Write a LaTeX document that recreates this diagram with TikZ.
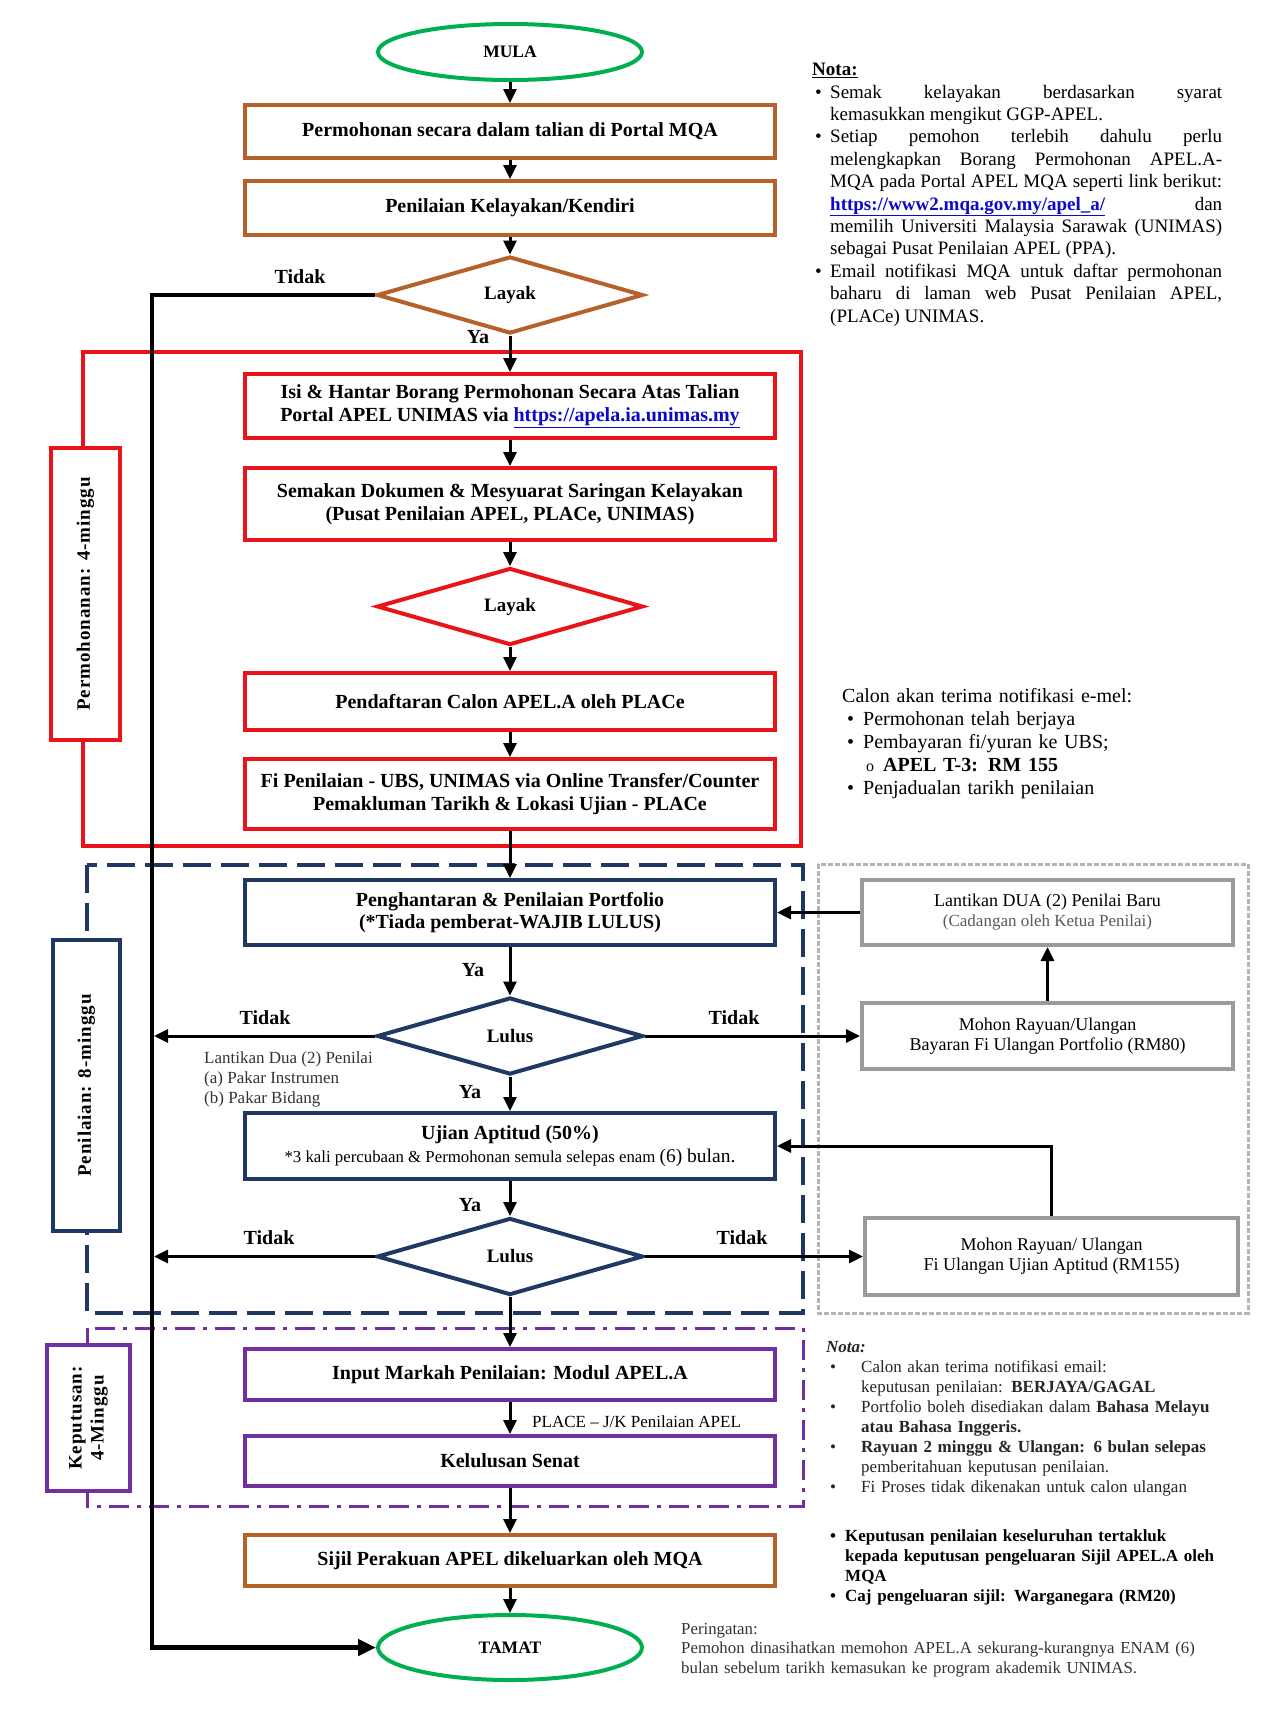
\documentclass[tikz,border=0pt]{standalone}
\usepackage{fontspec}
\setmainfont{Liberation Serif}
\usetikzlibrary{shapes.geometric,arrows.meta}

\definecolor{mqagreen}{RGB}{0,176,80}
\definecolor{mqabrown}{RGB}{182,96,42}
\definecolor{unired}{RGB}{232,20,25}
\definecolor{evalnavy}{RGB}{31,56,100}
\definecolor{decpurple}{RGB}{112,48,160}
\definecolor{appealgray}{RGB}{155,155,155}
\definecolor{linkblue}{RGB}{10,10,200}

\newcommand{\bitem}[3][18pt]{\par\noindent\hangindent=#1\hangafter=1\makebox[#1][l]{\hspace{#2}\textbullet}#3\par}
\newcommand{\weblink}[1]{\textcolor{linkblue}{\underline{\textbf{#1}}}}

\begin{document}
\begin{tikzpicture}[x=1pt,y=-1pt,
  proc/.style={draw, line width=4pt, fill=white, minimum width=530pt, align=center, inner sep=2pt, font=\bfseries\fontsize{20}{22.5}\selectfont},
  brownbox/.style={proc, draw=mqabrown},
  redbox/.style={proc, draw=unired},
  navybox/.style={proc, draw=evalnavy},
  purplebox/.style={proc, draw=decpurple},
  graybox/.style={draw=appealgray, line width=4pt, fill=white, minimum width=371pt, align=center, font=\fontsize{18}{20}\selectfont},
  decision/.style={diamond, aspect=3.4, inner sep=0pt, line width=4pt, fill=white, minimum width=266pt, minimum height=77pt, font=\bfseries\fontsize{19}{22}\selectfont},
  terminal/.style={ellipse, draw=mqagreen, line width=4pt, fill=white, minimum width=264pt, font=\bfseries\fontsize{17.5}{20}\selectfont},
  stagebox/.style={draw, line width=4pt, fill=white, rotate=90, inner sep=0pt, align=center, font=\bfseries\fontsize{19}{22}\selectfont\addfontfeatures{LetterSpace=5}},
  flow/.style={line width=3pt, -{Triangle[length=14pt,width=13pt]}},
  spine/.style={line width=4.5pt, line join=miter, -{Triangle[length=18pt,width=16pt]}},
  lbl/.style={inner sep=0pt, font=\bfseries\fontsize{20}{22}\selectfont},
  note/.style={anchor=north west, inner sep=0pt}]

\useasboundingbox (0,0) rectangle (1264,1709);
\fill[white] (0,0) rectangle (1264,1709);

% stage frames
\draw[unired, line width=3.5pt] (83,352) rectangle (801,846);
\draw[evalnavy, line width=4pt, dash pattern=on 28pt off 10pt] (87,865) rectangle (803,1313);
\draw[appealgray!75, line width=3pt, dash pattern=on 5pt off 2pt] (818,864) rectangle (1248,1313);
\draw[decpurple, line width=3pt, dash pattern=on 20pt off 8pt on 4pt off 8pt] (87,1328) rectangle (803,1506);

\node[stagebox, draw=unired, minimum width=292pt, minimum height=69pt] (stagemohon) at (85.5,594) {Permohonanan: 4-minggu};
\node[stagebox, draw=evalnavy, minimum width=291pt, minimum height=67pt] (stagenilai) at (86.5,1085.5) {Penilaian: 8-minggu};
\node[stagebox, draw=decpurple, minimum width=146pt, minimum height=83pt] (stageputus) at (88.5,1418) {Keputusan:\\ 4-Minggu};

% main flow
\node[terminal, minimum height=56pt] (mula) at (510,52) {MULA};
\node[brownbox, minimum height=53pt] (portal) at (510,131.5) {Permohonan secara dalam talian di Portal MQA};
\node[brownbox, minimum height=54pt] (kendiri) at (510,208) {Penilaian Kelayakan/Kendiri};
\node[decision, draw=mqabrown] (layaka) at (510,295) {Layak};
\node[redbox, minimum height=64pt] (isiborang) at (510,406) {Isi \& Hantar Borang Permohonan Secara Atas Talian\\ Portal APEL UNIMAS via \weblink{https://apela.ia.unimas.my}};
\node[redbox, minimum height=72pt] (semakan) at (510,504) {Semakan Dokumen \& Mesyuarat Saringan Kelayakan\\ (Pusat Penilaian APEL, PLACe, UNIMAS)};
\node[decision, draw=unired] (layakb) at (510,606.5) {Layak};
\node[redbox, minimum height=57pt] (daftar) at (510,701.5) {Pendaftaran Calon APEL.A oleh PLACe};
\node[redbox, minimum height=70pt] (bayarfi) at (510,794) {Fi Penilaian - UBS, UNIMAS via Online Transfer/Counter\\ Pemakluman Tarikh \& Lokasi Ujian - PLACe};
\node[navybox, minimum height=65pt] (portfolio) at (510,912.5) {Penghantaran \& Penilaian Portfolio\\ (*Tiada pemberat-WAJIB LULUS)};
\node[decision, draw=evalnavy] (lulusa) at (510,1036) {Lulus};
\node[navybox, minimum height=66pt] (ujian) at (510,1146) {Ujian Aptitud (50\%)\\[1pt] {\mdseries\fontsize{16.8}{20}\selectfont *3 kali percubaan \& Permohonan semula selepas enam {\fontsize{19.5}{20}\selectfont (6) bulan.}}};
\node[decision, draw=evalnavy] (lulusb) at (510,1256.5) {Lulus};
\node[purplebox, minimum height=51pt] (markah) at (510,1374.5) {Input Markah Penilaian: Modul APEL.A};
\node[purplebox, minimum height=50pt] (senat) at (510,1461) {Kelulusan Senat};
\node[brownbox, minimum height=51pt] (sijil) at (510,1560.5) {Sijil Perakuan APEL dikeluarkan oleh MQA};
\node[terminal, minimum height=65pt] (tamat) at (510,1647.5) {TAMAT};

% appeal side
\node[graybox, minimum height=65pt] (baru) at (1047.5,912.5) {Lantikan DUA (2) Penilai Baru\\ {\color{black!65}\fontsize{17}{20}\selectfont (Cadangan oleh Ketua Penilai)}};
\node[graybox, minimum height=66pt] (rayuana) at (1047.5,1036) {Mohon Rayuan/Ulangan\\ Bayaran Fi Ulangan Portfolio (RM80)};
\node[graybox, minimum width=373pt, minimum height=77pt] (rayuanb) at (1051.5,1256.5) {Mohon Rayuan/ Ulangan\\ Fi Ulangan Ujian Aptitud (RM155)};

% connectors
\draw[flow] (mula) -- (portal);
\draw[flow] (portal) -- (kendiri);
\draw[flow] (kendiri) -- (layaka);
\draw[flow] (layaka) -- (isiborang);
\draw[flow] (isiborang) -- (semakan);
\draw[flow] (semakan) -- (layakb);
\draw[flow] (layakb) -- (daftar);
\draw[flow] (daftar) -- (bayarfi);
\draw[flow] (bayarfi) -- (portfolio);
\draw[flow] (portfolio) -- (lulusa);
\draw[flow] (lulusa) -- (ujian);
\draw[flow] (ujian) -- (lulusb);
\draw[flow] (lulusb) -- (markah);
\draw[flow] (markah) -- (senat);
\draw[flow] (senat) -- (sijil);
\draw[flow] (sijil) -- (tamat);
\draw[flow] (lulusa) -- (rayuana);
\draw[flow] (rayuana) -- (baru);
\draw[flow] (baru) -- (portfolio);
\draw[flow] (lulusb) -- (rayuanb);
\draw[flow] (rayuanb.north) |- (ujian.east);

\coordinate (spinetop) at (152,295);
\coordinate (spinebot) at (152,1647.5);
\draw[spine] (layaka.west) -- (spinetop) -- (spinebot) -- (tamat.west);
\draw[flow, shorten >=2pt] (lulusa.west) -- (lulusa.west -| spinetop);
\draw[flow, shorten >=2pt] (lulusb.west) -- (lulusb.west -| spinetop);

% labels
\node[lbl] (tidaka) at (300,277) {Tidak};
\node[lbl] (yaa) at (478,337) {Ya};
\node[lbl] (yab) at (473,970) {Ya};
\node[lbl] (tidakb) at (265,1018) {Tidak};
\node[lbl] (tidakc) at (734,1018) {Tidak};
\node[lbl] (yac) at (470,1092) {Ya};
\node[lbl] (yad) at (470,1205) {Ya};
\node[lbl] (tidakd) at (269,1238) {Tidak};
\node[lbl] (tidake) at (742,1238) {Tidak};
\node[anchor=west, inner sep=0pt, font=\fontsize{17}{20}\selectfont] (jk) at (532,1422) {PLACE -- J/K Penilaian APEL};
\node[note, align=left, text=black!80, font=\fontsize{17}{20}\selectfont] (penilaidua) at (204,1051) {Lantikan Dua (2) Penilai\\ (a) Pakar Instrumen\\ (b) Pakar Bidang};

% notes
\node[note, text width=410pt, align=justify, font=\fontsize{19}{22.4}\selectfont] (notaa) at (812,63)
{\textbf{\underline{Nota:}}
\bitem{3pt}{Semak kelayakan berdasarkan syarat\linebreak kemasukkan mengikut GGP-APEL.}
\bitem{3pt}{Setiap pemohon terlebih dahulu perlu\linebreak melengkapkan Borang Permohonan APEL.A-\linebreak MQA pada Portal APEL MQA seperti link berikut:\linebreak \weblink{https://www2.mqa.gov.my/apel\_a/} dan\linebreak memilih Universiti Malaysia Sarawak (UNIMAS)\linebreak sebagai Pusat Penilaian APEL (PPA).}
\bitem{3pt}{Email notifikasi MQA untuk daftar permohonan\linebreak baharu di laman web Pusat Penilaian APEL,\linebreak (PLACe) UNIMAS.}};

\node[note, text width=330pt, align=left, font=\fontsize{20}{23}\selectfont] (calon) at (842,688)
{Calon akan terima notifikasi e-mel:
\bitem[21pt]{5pt}{Permohonan telah berjaya}
\bitem[21pt]{5pt}{Pembayaran fi/yuran ke UBS;}
\noindent\hspace*{24pt}\makebox[17pt][l]{\fontsize{16}{20}\selectfont o}\textbf{APEL T-3: RM 155}
\bitem[21pt]{5pt}{Penjadualan tarikh penilaian}};

\node[note, text width=410pt, align=left, text=black!85, font=\fontsize{17}{20}\selectfont] (notab) at (826,1341)
{\textbf{\textit{Nota:}}
\bitem[35pt]{4pt}{Calon akan terima notifikasi email:\newline keputusan penilaian: \textbf{BERJAYA/GAGAL}}
\bitem[35pt]{4pt}{Portfolio boleh disediakan dalam \textbf{Bahasa Melayu}\newline \textbf{atau Bahasa Inggeris.}}
\bitem[35pt]{4pt}{\textbf{Rayuan 2 minggu \& Ulangan: 6 bulan selepas}\newline pemberitahuan keputusan penilaian.}
\bitem[35pt]{4pt}{Fi Proses tidak dikenakan untuk calon ulangan}};

\node[note, text width=410pt, align=left, font=\bfseries\fontsize{17}{20}\selectfont] (notac) at (826,1521)
{\bitem[19pt]{4pt}{Keputusan penilaian keseluruhan tertakluk\newline kepada keputusan pengeluaran Sijil APEL.A oleh\newline MQA}
\bitem[19pt]{4pt}{Caj pengeluaran sijil: Warganegara (RM20)}};

\node[note, text width=560pt, align=left, text=black!80, font=\fontsize{16.8}{19.5}\selectfont] (ingat) at (681,1623)
{Peringatan:\\ Pemohon dinasihatkan memohon APEL.A sekurang-kurangnya ENAM (6)\\ bulan sebelum tarikh kemasukan ke program akademik UNIMAS.};
\end{tikzpicture}
\end{document}
